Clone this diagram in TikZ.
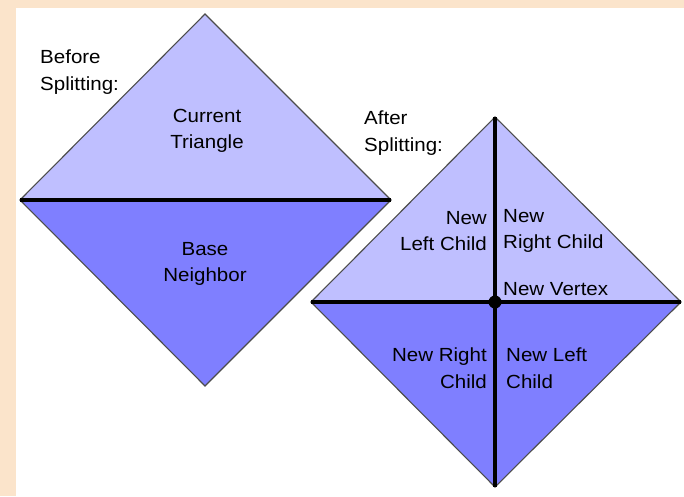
\documentclass[tikz,border=0pt]{standalone}
\usepackage{fontspec}
\setmainfont{Liberation Sans}[FakeStretch=1.08]
\usetikzlibrary{positioning}
\definecolor{peach}{HTML}{FBE4CB}
\definecolor{lite}{HTML}{BFBFFF}
\definecolor{deep}{HTML}{7F7FFF}
\tikzset{
  rim/.style ={draw=black!70,line width=1.1pt,line join=miter},
  cut/.style ={draw=black,line width=3.2pt},
  lbl/.style ={font=\fontsize{19}{26.5}\selectfont,inner sep=0pt},
  vdot/.style={circle,fill=black,inner sep=0pt,minimum size=13pt},
}

\begin{document}
\begin{tikzpicture}[x=1pt,y=-1pt]
  \useasboundingbox (0,0) rectangle (684,496);
  \fill[peach] (0,0) rectangle (684,496);
  \fill[white] (16,8) rectangle (684,496);
  % before splitting
  \coordinate (bT) at (205,14);
  \coordinate (bL) at (20,200);
  \coordinate (bR) at (391,200);
  \coordinate (bB) at (205,386);
  \fill[lite] (bL) -- (bT) -- (bR) -- cycle;
  \fill[deep] (bL) -- (bB) -- (bR) -- cycle;
  \draw[rim] (bL) -- (bT) -- (bR) -- (bB) -- cycle;
  \draw[cut] (bL) -- (bR);
  % after splitting
  \coordinate (aT) at (495,117);
  \coordinate (aL) at (311,302);
  \coordinate (aR) at (681,302);
  \coordinate (aB) at (495,487);
  \fill[lite] (aL) -- (aT) -- (aR) -- cycle;
  \fill[deep] (aL) -- (aB) -- (aR) -- cycle;
  \draw[rim] (aL) -- (aT) -- (aR) -- (aB) -- cycle;
  \draw[cut] (aL) -- (aR);
  \draw[cut] (aT) -- (aB);
  \node[vdot] (nv) at (495,302) {};
  % labels
  \node[lbl,anchor=west,align=left] (before) at (40,72) {Before\\Splitting:};
  \node[lbl,align=center] (cur) at (207,131) {Current\\Triangle};
  \node[lbl,align=center] (base) at (205,264) {Base\\Neighbor};
  \node[lbl,anchor=west,align=left] (after) at (364,133) {After\\Splitting:};
  \node[lbl,anchor=east,align=right] (ulc) at (487,231) {New\\Left Child};
  \node[lbl,anchor=west,align=left] (urc) at (503,231) {New\\Right Child};
  \node[lbl,anchor=west] (nvl) at (503,289) {New Vertex};
  \node[lbl,anchor=east,align=right] (lrc) at (487,368) {New Right\\Child};
  \node[lbl,anchor=west,align=left] (llc) at (506,368) {New Left\\Child};
\end{tikzpicture}
\end{document}
